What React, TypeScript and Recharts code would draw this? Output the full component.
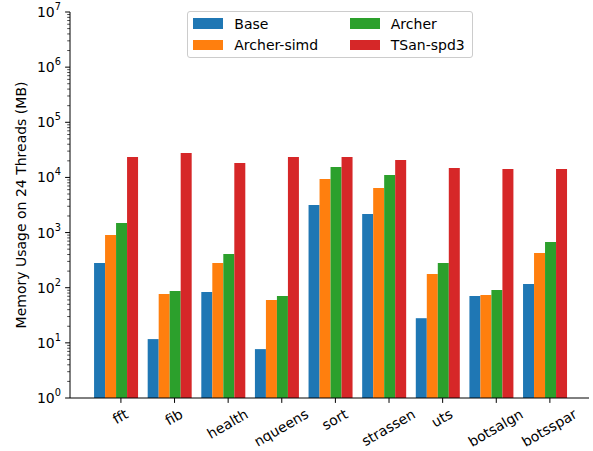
import { BarChart, Bar, XAxis, YAxis, Legend } from 'recharts';

// benchmarks on the x axis
const categories = ['fft', 'fib', 'health', 'nqueens', 'sort', 'strassen', 'uts', 'botsalgn', 'botsspar'];

// memory usage (MB) on 24 threads
const baseMem = [281, 11.7, 84, 7.7, 3160, 2170, 28, 71, 117];
const archerSimdMem = [904, 77, 281, 60, 9370, 6430, 177, 74, 426];
const archerMem = [1492, 87, 409, 71, 15500, 11070, 281, 91, 675];
const tsanMem = [23500, 27700, 18300, 23500, 23500, 20700, 14800, 14200, 14200];

const seriesKeys = ['base', 'archerSimd', 'archer', 'tsan'];
const seriesNames = ['Base', 'Archer-simd', 'Archer', 'TSan-spd3'];
const seriesColors = ['#1f77b4', '#ff7f0e', '#2ca02c', '#d62728'];

const majorTicks = [1, 10, 100, 1e3, 1e4, 1e5, 1e6, 1e7];
const minorTicks = majorTicks.slice(0, -1).flatMap(m => [2, 3, 4, 5, 6, 7, 8, 9].map(k => k * m));
const yTicks = [...majorTicks, ...minorTicks].sort((a, b) => a - b);

const data = categories.map((name, i) => ({
    name,
    base: baseMem[i],
    archerSimd: archerSimdMem[i],
    archer: archerMem[i],
    tsan: tsanMem[i],
}));

const FONT = '"DejaVu Sans", sans-serif';
const FS = 14;

let measureCtx: CanvasRenderingContext2D | null = null;
function textWidth(s: string) {
    if (!measureCtx) {
        measureCtx = document.createElement('canvas').getContext('2d');
    }
    if (!measureCtx) return s.length * FS * 0.6;
    measureCtx.font = `${FS}px "DejaVu Sans"`;
    return measureCtx.measureText(s).width;
}

// rotated label, centred under a tick that sits a little right of the band centre
const XTick = (props: any) => {
    const { x, y, payload } = props;
    const tx = x + 5.4;
    const label = String(payload.value);
    const h = textWidth(label) * 0.5 + FS * 0.866;
    const cy = y + 9.7 + h / 2;
    return (
        <g>
            <line x1={tx} x2={tx} y1={y} y2={y + 4.9} stroke="#000" strokeWidth={1} />
            <text transform={`translate(${tx},${cy}) rotate(-30)`} y={3.7} textAnchor="middle" fontSize={FS} fontFamily={FONT} fill="#000">
                {label}
            </text>
        </g>
    );
};

const YTick = (props: any) => {
    const { x, y, payload } = props;
    const lg = Math.log10(payload.value);
    const exp = Math.round(lg);
    const major = Math.abs(lg - exp) < 1e-6;
    return (
        <g>
            <line x1={x} x2={x - (major ? 4.9 : 2.8)} y1={y} y2={y} stroke="#000" strokeWidth={major ? 1 : 0.7} />
            {major && (
                <text x={x - 9} y={y + 5} textAnchor="end" fontSize={FS} fontFamily={FONT} fill="#000">
                    <tspan>10</tspan>
                    <tspan dy={-7} fontSize={9.8}>{exp}</tspan>
                </text>
            )}
        </g>
    );
};

const YLabel = (props: any) => {
    const vb = props.viewBox || { y: 12, height: 386 };
    const cy = vb.y + vb.height / 2;
    return (
        <text transform={`translate(21,${cy}) rotate(-90)`} textAnchor="middle" dominantBaseline="central" fontSize={FS} fontFamily={FONT} fill="#000">
            Memory Usage on 24 Threads (MB)
        </text>
    );
};

// two columns, filled column by column like the original
const renderLegend = () => {
    const entries = seriesNames.map((name, i) => ({ name, color: seriesColors[i] }));
    const cols = [entries.slice(0, 2), entries.slice(2, 4)];
    return (
        <div style={{
            position: 'relative', width: 286, height: 47, boxSizing: 'border-box',
            border: '1px solid #cccccc', borderRadius: 3, background: 'rgba(255,255,255,0.8)',
            fontFamily: FONT, fontSize: FS, color: '#000',
        }}>
            {cols.map((col, ci) => (
                <div key={ci} style={{ position: 'absolute', left: ci === 0 ? 5 : 161.5, top: 1 }}>
                    {col.map(entry => (
                        <div key={entry.name} style={{ display: 'flex', alignItems: 'center', height: 21.2 }}>
                            <span style={{ display: 'inline-block', width: 30, height: 10.5, background: entry.color }} />
                            <span style={{ marginLeft: 11.3, lineHeight: '16px' }}>{entry.name}</span>
                        </div>
                    ))}
                </div>
            ))}
        </div>
    );
};

export default function App() {
    return (
        <div style={{ position: 'absolute', left: 0, top: 0, width: 593, height: 451, background: '#fff' }}>
            <BarChart
                width={593}
                height={451}
                data={data}
                margin={{ top: 12, right: 4, left: 0, bottom: 0 }}
                barCategoryGap="10%"
                barGap={0}
            >
                <XAxis
                    dataKey="name"
                    height={53}
                    padding={{ left: 18.7, right: 17.7 }}
                    interval={0}
                    tickLine={false}
                    tickSize={0}
                    tickMargin={0}
                    tick={<XTick />}
                    axisLine={{ stroke: '#000', strokeWidth: 1 }}
                />
                <XAxis
                    xAxisId="top"
                    dataKey="name"
                    orientation="top"
                    height={0}
                    tick={false}
                    tickLine={false}
                    axisLine={{ stroke: '#000', strokeWidth: 1 }}
                />
                <YAxis
                    type="number"
                    scale="log"
                    domain={[1, 1e7]}
                    allowDataOverflow
                    ticks={yTicks}
                    interval={0}
                    width={70}
                    tickLine={false}
                    tickSize={0}
                    tickMargin={0}
                    tick={<YTick />}
                    axisLine={{ stroke: '#000', strokeWidth: 1 }}
                    label={<YLabel />}
                />
                <YAxis
                    yAxisId="right"
                    orientation="right"
                    type="number"
                    domain={[0, 1]}
                    width={0}
                    tick={false}
                    tickLine={false}
                    axisLine={{ stroke: '#000', strokeWidth: 1 }}
                />
                <Legend
                    layout="horizontal"
                    verticalAlign="middle"
                    align="center"
                    content={renderLegend}
                    wrapperStyle={{ position: 'absolute', top: 11, left: 187, width: 286, height: 47 }}
                />
                {seriesKeys.map((key, i) => (
                    <Bar key={key} dataKey={key} name={seriesNames[i]} fill={seriesColors[i]} isAnimationActive={false} />
                ))}
            </BarChart>
        </div>
    );
}
